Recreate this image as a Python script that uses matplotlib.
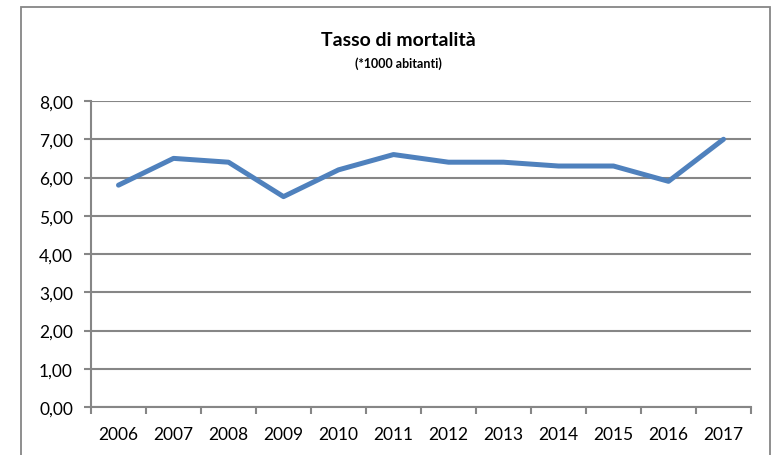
import matplotlib
matplotlib.use("Agg")
import matplotlib.pyplot as plt
from matplotlib.patches import Rectangle
from matplotlib.ticker import FixedLocator, NullFormatter

years = ["2006", "2007", "2008", "2009", "2010", "2011", "2012", "2013", "2014", "2015", "2016", "2017"]
rates = [5.8, 6.5, 6.4, 5.5, 6.2, 6.6, 6.4, 6.4, 6.3, 6.3, 5.9, 7.0]
yticks = [0, 1, 2, 3, 4, 5, 6, 7, 8]
ytick_labels = ["0,00", "1,00", "2,00", "3,00", "4,00", "5,00", "6,00", "7,00", "8,00"]

plt.rcParams['font.family'] = ['Lato', 'DejaVu Sans']
W, H = 775, 456
fig = plt.figure(figsize=(W/100, H/100), dpi=100)
gray = "#868686"

# outer chart frame
fig.patches.append(Rectangle((21/W, -0.05), (770-21)/W, 1.05 - 8/H, transform=fig.transFigure,
                             fill=False, edgecolor=gray, linewidth=1.3, clip_on=False))

ax = fig.add_axes([91/W, 1-408/H, (751-91)/W, (408-102)/H])
x = list(range(len(years)))
ax.plot(x, rates, color="#4F81BD", linewidth=3.6, solid_capstyle="round", zorder=3)

ax.set_xlim(-0.5, len(years)-0.5)
ax.set_ylim(0, 8)
ax.set_yticks(yticks)
ax.set_yticklabels(ytick_labels)
ax.set_xticks(x)
ax.set_xticklabels(years)
ax.xaxis.set_minor_locator(FixedLocator([i - 0.5 for i in range(len(years)+1)]))
ax.xaxis.set_minor_formatter(NullFormatter())
ax.tick_params(axis='x', which='major', length=0, pad=14, labelsize=12.5, labelcolor="#000000")
ax.tick_params(axis='x', which='minor', length=5, width=1.5, color=gray, direction='out')
ax.tick_params(axis='y', length=5, width=1.5, color=gray, pad=8, labelsize=12.5, labelcolor="#000000")
ax.grid(axis='y', color=gray, linewidth=1.5, zorder=0)
for s in ["top", "right"]:
    ax.spines[s].set_visible(False)
for s in ["left", "bottom"]:
    ax.spines[s].set_color(gray)
    ax.spines[s].set_linewidth(1.5)
ax.set_axisbelow(True)

fig.text(398/W, 1-40/H, "Tasso di mortalità", ha="center", va="center", fontsize=14, fontweight="bold")
fig.text(398/W, 1-64/H, "(*1000 abitanti)", ha="center", va="center", fontsize=9, fontweight="bold")

fig.savefig("out.png", dpi=100)
